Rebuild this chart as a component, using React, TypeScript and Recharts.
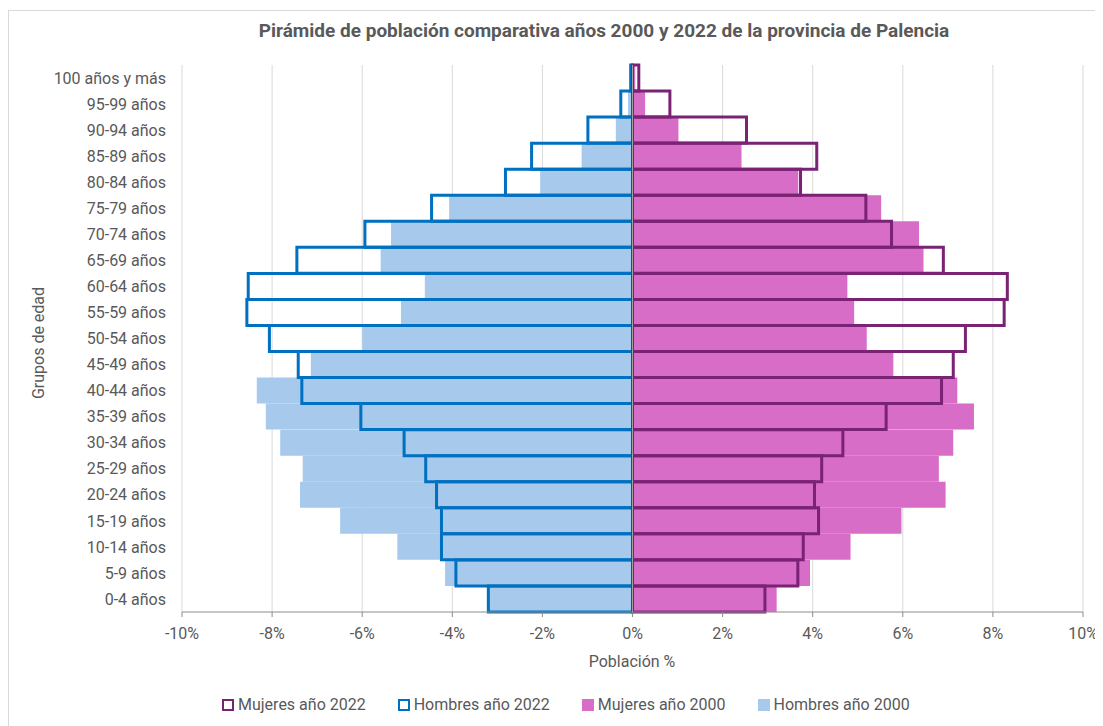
import { BarChart, Bar, XAxis, YAxis, CartesianGrid, ReferenceLine } from 'recharts'

const groups = [
  '100 años y más', '95-99 años', '90-94 años', '85-89 años', '80-84 años', '75-79 años',
  '70-74 años', '65-69 años', '60-64 años', '55-59 años', '50-54 años', '45-49 años',
  '40-44 años', '35-39 años', '30-34 años', '25-29 años', '20-24 años', '15-19 años',
  '10-14 años', '5-9 años', '0-4 años',
]

// % of total population, men as negative values
const hombres2000 = [
  -0.02, -0.1, -0.37, -1.13, -2.05, -4.07, -5.36, -5.59, -4.61, -5.14, -6.0, -7.14,
  -8.34, -8.14, -7.82, -7.32, -7.38, -6.49, -5.22, -4.16, -3.21,
]
const mujeres2000 = [
  0.06, 0.28, 1.02, 2.42, 3.68, 5.52, 6.36, 6.46, 4.77, 4.92, 5.2, 5.79,
  7.21, 7.58, 7.12, 6.8, 6.95, 5.97, 4.84, 3.94, 3.2,
]
const hombres2022 = [
  -0.04, -0.26, -0.99, -2.24, -2.82, -4.46, -5.94, -7.45, -8.53, -8.56, -8.06, -7.42,
  -7.34, -6.03, -5.07, -4.59, -4.35, -4.24, -4.24, -3.92, -3.2,
]
const mujeres2022 = [
  0.14, 0.83, 2.53, 4.09, 3.73, 5.18, 5.75, 6.9, 8.32, 8.25, 7.39, 7.12,
  6.86, 5.63, 4.67, 4.2, 4.04, 4.13, 3.79, 3.67, 2.94,
]
const xTicks = [-10, -8, -6, -4, -2, 0, 2, 4, 6, 8, 10]

const data = groups.map((g, i) => ({
  grupo: g,
  h2000: hombres2000[i],
  m2000: mujeres2000[i],
  h2022: hombres2022[i],
  m2022: mujeres2022[i],
}))

const FONT = 'Roboto, "Open Sans", sans-serif'
const TEXT = '#595959'

const legendItems = [
  { label: 'Mujeres año 2022', fill: '#fff', stroke: '#7A2273' },
  { label: 'Hombres año 2022', fill: '#fff', stroke: '#0070C0' },
  { label: 'Mujeres año 2000', fill: '#D86DC8', stroke: '#D86DC8' },
  { label: 'Hombres año 2000', fill: '#A6C9EC', stroke: '#A6C9EC' },
]

export default function App() {
  return (
    <div
      style={{
        position: 'relative',
        width: 1100,
        height: 720,
        marginTop: 2,
        borderTop: '1px solid #d9d9d9',
        borderLeft: '1px solid #d9d9d9',
        fontFamily: FONT,
        color: TEXT,
        background: '#fff',
      }}
    >
      <div
        style={{
          position: 'absolute',
          top: 8,
          left: 595,
          transform: 'translateX(-50%)',
          whiteSpace: 'nowrap',
          fontSize: 19,
          fontWeight: 700,
        }}
      >
        Pirámide de población comparativa años 2000 y 2022 de la provincia de Palencia
      </div>

      <BarChart
        width={1090}
        height={700}
        data={data}
        layout="vertical"
        stackOffset="sign"
        barCategoryGap={0}
        margin={{ top: 54, right: 16, left: 0, bottom: 69 }}
      >
        <CartesianGrid horizontal={false} stroke="#d9d9d9" />
        <XAxis
          type="number"
          domain={[-10, 10]}
          ticks={xTicks}
          tickFormatter={(v) => `${v}%`}
          tick={{ fill: TEXT, fontSize: 16 }}
          stroke="#8c8c8c"
          tickSize={5}
          tickMargin={11}
          height={30}
          allowDataOverflow
        />
        <YAxis
          yAxisId="a"
          type="category"
          dataKey="grupo"
          width={173}
          axisLine={false}
          tickLine={false}
          tickSize={0}
          tickMargin={16}
          interval={0}
          tick={{ fill: TEXT, fontSize: 16 }}
        />
        <YAxis yAxisId="b" type="category" dataKey="grupo" hide />
        <Bar yAxisId="a" dataKey="h2000" stackId="f" fill="#A6C9EC" isAnimationActive={false} />
        <Bar yAxisId="a" dataKey="m2000" stackId="f" fill="#D86DC8" isAnimationActive={false} />
        <Bar
          yAxisId="b"
          dataKey="h2022"
          stackId="o"
          fill="none"
          stroke="#0070C0"
          strokeWidth={3}
          isAnimationActive={false}
        />
        <Bar
          yAxisId="b"
          dataKey="m2022"
          stackId="o"
          fill="none"
          stroke="#7A2273"
          strokeWidth={3}
          isAnimationActive={false}
        />
        <ReferenceLine yAxisId="a" x={0} stroke="#a0a0a0" strokeWidth={1} />
      </BarChart>

      <div
        style={{
          position: 'absolute',
          top: 332,
          left: 29,
          transform: 'translate(-50%, -50%) rotate(-90deg)',
          whiteSpace: 'nowrap',
          fontSize: 16,
        }}
      >
        Grupos de edad
      </div>

      <div
        style={{
          position: 'absolute',
          top: 641,
          left: 623,
          transform: 'translateX(-50%)',
          whiteSpace: 'nowrap',
          fontSize: 16,
        }}
      >
        Población %
      </div>

      <div
        style={{
          position: 'absolute',
          top: 684,
          left: 213,
          display: 'flex',
          gap: 32,
          fontSize: 16,
          whiteSpace: 'nowrap',
        }}
      >
        {legendItems.map((it) => (
          <div key={it.label} style={{ display: 'flex', alignItems: 'center', gap: 4 }}>
            <span
              style={{
                display: 'inline-block',
                width: 8,
                height: 8,
                background: it.fill,
                border: `2.5px solid ${it.stroke}`,
              }}
            />
            <span>{it.label}</span>
          </div>
        ))}
      </div>
    </div>
  )
}
